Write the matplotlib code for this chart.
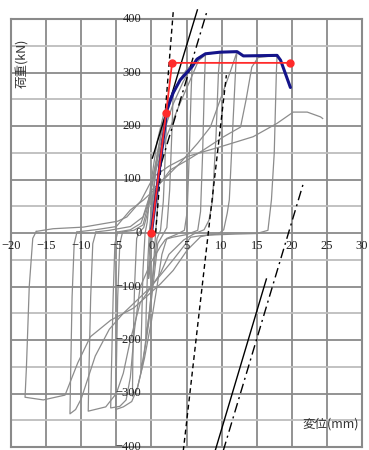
import matplotlib
matplotlib.use("Agg")
import matplotlib.pyplot as plt

# hysteresis loops, in load order (disp mm, load kN)
loop0 = [(0, 0), (0.3, 50), (0.5, 80), (0.4, 55), (0.15, 0), (-0.1, -45), (-0.4, -85), (-0.35, -55), (-0.15, 0)]
loop1 = [(-0.15, 0), (0.2, 60), (0.7, 125), (1.2, 160), (1.1, 120), (0.85, 45), (0.6, 0), (0.3, -60),
         (-0.2, -140), (-0.8, -200), (-0.75, -150), (-0.5, -50), (-0.3, 0)]
loop2 = [(-0.3, 0), (0.1, 60), (0.8, 145), (1.6, 205), (2.2, 230), (2.05, 170), (1.7, 60), (1.3, 5), (0.8, -10),
         (0.4, -60), (-0.3, -150), (-1.0, -220), (-1.5, -260), (-1.45, -200), (-1.2, -70), (-0.9, 0)]
loop3 = [(-0.9, 0), (-0.6, 20), (-0.1, 90), (0.8, 170), (1.8, 225), (2.6, 252), (3.1, 262), (2.95, 200), (2.6, 80),
         (2.2, 10), (1.6, -4), (0.9, -20), (0.4, -80), (-0.4, -170), (-1.3, -250), (-2.0, -290), (-2.7, -305),
         (-2.65, -240), (-2.4, -100), (-2.1, -10), (-1.7, 2)]
loop4 = [(-1.7, 2), (-1.1, 10), (-0.5, 40), (0.3, 110), (1.5, 190), (2.8, 250), (4.1, 288), (5.0, 305), (5.8, 315),
         (5.65, 260), (5.4, 150), (5.1, 40), (4.7, 5), (3.5, -3), (2.2, -10), (1.5, -40), (0.8, -100), (0, -165),
         (-1, -235), (-2, -290), (-2.8, -315), (-4, -325), (-5.1, -330), (-5.0, -260), (-4.8, -120), (-4.5, -20),
         (-4.1, 2)]
loop5 = [(-4.1, 2), (-2.5, 5), (-1.2, 15), (-0.5, 50), (0.3, 110), (1.5, 178), (3, 238), (4.5, 282), (5.8, 312),
         (6.7, 328), (7.7, 335), (7.55, 280), (7.3, 150), (7.0, 40), (6.6, 5), (5, -3), (3, -8), (2, -12),
         (1.3, -25), (-0.1, -56), (-1.6, -101), (-2.4, -180), (-3, -270), (-3.6, -312), (-4.5, -324), (-5.8, -327),
         (-5.7, -260), (-5.45, -120), (-5.2, -20), (-4.8, 2)]
loop6 = [(-4.8, 2), (-3, 6), (-1.5, 18), (-0.6, 50), (0.5, 112), (2, 175), (4, 240), (5.5, 285), (6.7, 322),
         (7.8, 334), (9.8, 338), (9.55, 300), (9.2, 180), (8.7, 60), (8.2, 24), (7.5, 6), (6, -2), (4.6, -13),
         (2.5, -40), (1.3, -75), (-1.6, -131), (-3, -200), (-4, -262), (-5, -300), (-6.5, -325), (-9, -333),
         (-8.9, -260), (-8.65, -120), (-8.35, -20), (-7.9, 2)]
loop7 = [(-7.9, 2), (-6, 5), (-3, 12), (-1.2, 30), (0, 80), (1.7, 99), (4.1, 131), (6.6, 168), (8.4, 198),
         (9.8, 249), (11.2, 300), (12.2, 339), (12.05, 320), (11.6, 200), (11.1, 62), (10.8, 37), (10.3, 6),
         (9.5, -2), (7, -5), (5.6, -8), (3.1, -50), (-0.1, -101), (-1.6, -120), (-4, -150), (-6, -180), (-8, -230),
         (-9, -270), (-10, -310), (-10.8, -330), (-11.6, -338), (-11.5, -260), (-11.3, -120), (-11.0, -20),
         (-10.6, 2)]
loop8 = [(-10.6, 2), (-8, 6), (-5, 12), (-3, 43), (-1.1, 62), (0.85, 86), (2.7, 118), (5.1, 136), (7.4, 155),
         (10.3, 180), (12.7, 198), (13.5, 250), (14.3, 310), (15.2, 328), (17.9, 332), (17.8, 300), (17.5, 150),
         (17.1, 62), (16.6, 5), (15, -1), (12, -2), (8, -4), (7, -7), (5.1, -32), (3.1, -70), (1.3, -95),
         (-2.5, -140), (-5.8, -163), (-8.7, -194), (-10.5, -243), (-12.3, -303), (-15.4, -312), (-18, -307),
         (-17.8, -250), (-17.4, -100), (-16.9, -10), (-16.4, 3)]
loop9 = [(-16.4, 3), (-14, 8), (-9.7, 11), (-4.8, 22), (-3.5, 30), (-1.5, 60), (0.3, 105), (2.5, 125), (5.1, 143),
         (9.8, 161), (14.5, 180), (17.9, 205), (20.2, 226), (22.2, 226), (24.1, 217), (24.4, 214)]
loops = [loop0, loop1, loop2, loop3, loop4, loop5, loop6, loop7, loop8, loop9]

# envelope (blue) and bilinear model (red)
env_x = [0, 2.2, 3.1, 4.1, 5.8, 6.5, 7.7, 9.8, 12.2, 13.1, 17.9, 18.4, 19.8]
env_y = [0, 230, 262, 286, 311, 325, 335, 338, 339, 331, 332, 323, 272]
bil_x = [0, 2.1, 2.95, 19.8]
bil_y = [0, 225, 318, 318]

# stiffness lines (end points)
solid_up_x, solid_up_y = [0.14, 6.55], [140, 417]
dash_up_x, dash_up_y = [0.6, 3.13], [0, 417]
dd_up_x, dd_up_y = [1.41, 7.98], [130, 417]
solid_lo_x, solid_lo_y = [8.97, 16.38], [-412, -86]
dash_lo_x, dash_lo_y = [4.5, 10.68], [-412, 295]
dd_lo_x, dd_lo_y = [10.12, 21.65], [-412, 93]

xticks = [-20, -15, -10, -5, 0, 5, 10, 15, 20, 25, 30]
yticks = [-400, -300, -200, -100, 0, 100, 200, 300, 400]

fig = plt.figure(figsize=(3.69, 4.5), dpi=100)
ax = fig.add_axes([11 / 369, 3 / 450, 351 / 369, 428 / 450])
ax.set_xlim(-20, 30)
ax.set_ylim(-400, 400)

ax.set_xticks(xticks)
ax.set_yticks(yticks)
ax.set_yticks([-350, -250, -150, -50, 50, 150, 250, 350], minor=True)
ax.tick_params(which="both", length=0, labelbottom=False, labelleft=False)
ax.grid(which="major", color="#8a8a8a", lw=1.3)
ax.grid(which="minor", axis="y", color="#bdbdbd", lw=1.3)
ax.set_axisbelow(True)
for s in ax.spines.values():
    s.set_color("#8a8a8a")
    s.set_linewidth(1.5)

for lp in loops:
    ax.plot([p[0] for p in lp], [p[1] for p in lp], color="#8c8c8c", lw=0.9, zorder=2)

kw = dict(color="black", lw=1.0, zorder=3, clip_on=False)
ax.plot(solid_up_x, solid_up_y, ls="-", **kw)
ax.plot(solid_lo_x, solid_lo_y, ls="-", **kw)
ax.plot(dash_up_x, dash_up_y, ls=(0, (3.5, 2.5)), **kw)
ax.plot(dash_lo_x, dash_lo_y, ls=(0, (3.5, 2.5)), **kw)
ax.plot(dd_up_x, dd_up_y, ls=(0, (7, 3, 1.5, 3)), **kw)
ax.plot(dd_lo_x, dd_lo_y, ls=(0, (7, 3, 1.5, 3)), **kw)

ax.plot(env_x, env_y, color="#14148a", lw=2.2, zorder=4, solid_capstyle="round")
ax.plot(bil_x, bil_y, color="#ff2a2a", lw=1.3, zorder=5, marker="o", markersize=5)

tf = dict(family="Liberation Serif", fontsize=9, color="#222222", clip_on=False)
for xv in xticks:
    lab = str(xv).replace("-", "\u2212")
    ax.annotate(lab, (xv, 0), xytext=(0, -9.5), textcoords="offset points",
                ha="center", va="center", **tf)
for yv in yticks:
    lab = str(yv).replace("-", "\u2212")
    ax.annotate(lab, (0, yv), xytext=(-7.2, 0), textcoords="offset points",
                ha="right", va="center", **tf)

jf = dict(family=["Noto Sans CJK JP", "DejaVu Sans"], fontsize=9, color="#333333")
ax.text(-18.5, 318, "荷重(kN)", rotation=90, ha="center", va="center", **jf)
ax.text(25.5, -358, "変位(mm)", ha="center", va="center", **jf)

fig.savefig("out.png", dpi=100)
